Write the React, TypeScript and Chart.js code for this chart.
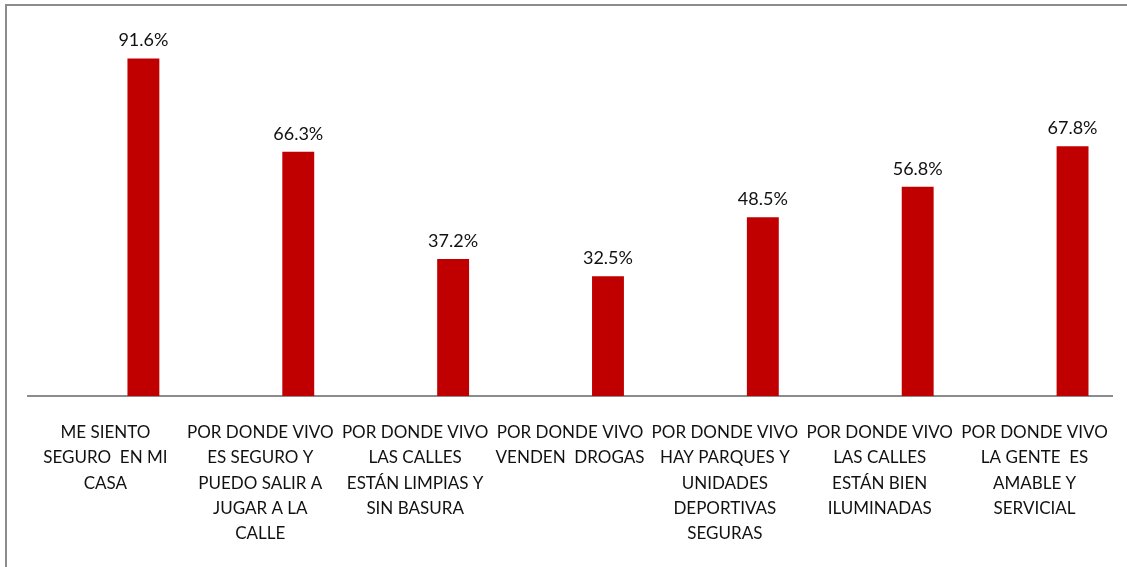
import React, { useEffect, useRef } from "react";
import { Chart, registerables } from "chart.js";

Chart.register(...registerables);

const categories: string[][] = [
  ["ME SIENTO", "SEGURO  EN MI", "CASA"],
  ["POR DONDE VIVO", "ES SEGURO Y", "PUEDO SALIR A", "JUGAR A LA", "CALLE"],
  ["POR DONDE VIVO", "LAS CALLES", "ESTÁN LIMPIAS Y", "SIN BASURA"],
  ["POR DONDE VIVO", "VENDEN  DROGAS"],
  ["POR DONDE VIVO", "HAY PARQUES Y", "UNIDADES", "DEPORTIVAS", "SEGURAS"],
  ["POR DONDE VIVO", "LAS CALLES", "ESTÁN BIEN", "ILUMINADAS"],
  ["POR DONDE VIVO", "LA GENTE  ES", "AMABLE Y", "SERVICIAL"],
];

// Empty first series (as in the original spreadsheet), real values in the second
const blankSeries: (number | null)[] = [null, null, null, null, null, null, null];
const values: number[] = [91.6, 66.3, 37.2, 32.5, 48.5, 56.8, 67.8];

const FONT = "Lato, 'Open Sans', sans-serif";
const BAR_COLOR = "#C00000";

const frameAndLabels = {
  id: "frameAndLabels",
  afterDatasetsDraw(chart: any) {
    const ctx = chart.ctx;
    ctx.save();
    // outer frame
    ctx.fillStyle = "#8c8c8c";
    ctx.fillRect(5, 4, chart.width, 2);
    ctx.fillRect(5, 4, 2, chart.height);
    // value labels
    const meta = chart.getDatasetMeta(1);
    ctx.fillStyle = "#111";
    ctx.font = `18px ${FONT}`;
    ctx.textAlign = "center";
    ctx.textBaseline = "middle";
    meta.data.forEach((bar: any, i: number) => {
      const v = values[i];
      ctx.fillText(v.toFixed(1) + "%", bar.x, bar.y - 18);
    });
    ctx.restore();
  },
};

export default function App() {
  const ref = useRef<HTMLCanvasElement>(null);
  useEffect(() => {
    if (!ref.current) return;
    const chart = new Chart(ref.current, {
      type: "bar",
      data: {
        labels: categories,
        datasets: [
          { label: "blank", data: blankSeries, backgroundColor: "transparent" },
          { label: "Porcentaje", data: values, backgroundColor: BAR_COLOR },
        ],
      },
      options: {
        animation: false,
        responsive: false,
        maintainAspectRatio: false,
        layout: { padding: { left: 28, right: 15, top: 27.6, bottom: 0 } },
        plugins: { legend: { display: false }, tooltip: { enabled: false } },
        datasets: { bar: { categoryPercentage: 0.981, barPercentage: 0.42 } },
        scales: {
          x: {
            grid: { display: false, drawTicks: false },
            border: { display: true, color: "#8c8c8c", width: 2 },
            ticks: {
              color: "#111",
              font: { family: FONT, size: 17, lineHeight: 1.49 },
              padding: 24,
              maxRotation: 0,
              minRotation: 0,
              autoSkip: false,
            },
            afterFit: (scale: any) => {
              scale.height = 171;
              scale.paddingLeft = 0;
              scale.paddingRight = 0;
            },
          },
          y: {
            display: false,
            min: 0,
            max: 100,
          },
        },
      },
      plugins: [frameAndLabels],
    });
    return () => chart.destroy();
  }, []);
  return (
    <div style={{ position: "fixed", left: 0, top: 0, width: 1127, height: 567, background: "#fff" }}>
      <canvas ref={ref} width={1127} height={567} style={{ display: "block", width: 1127, height: 567 }} />
    </div>
  );
}
